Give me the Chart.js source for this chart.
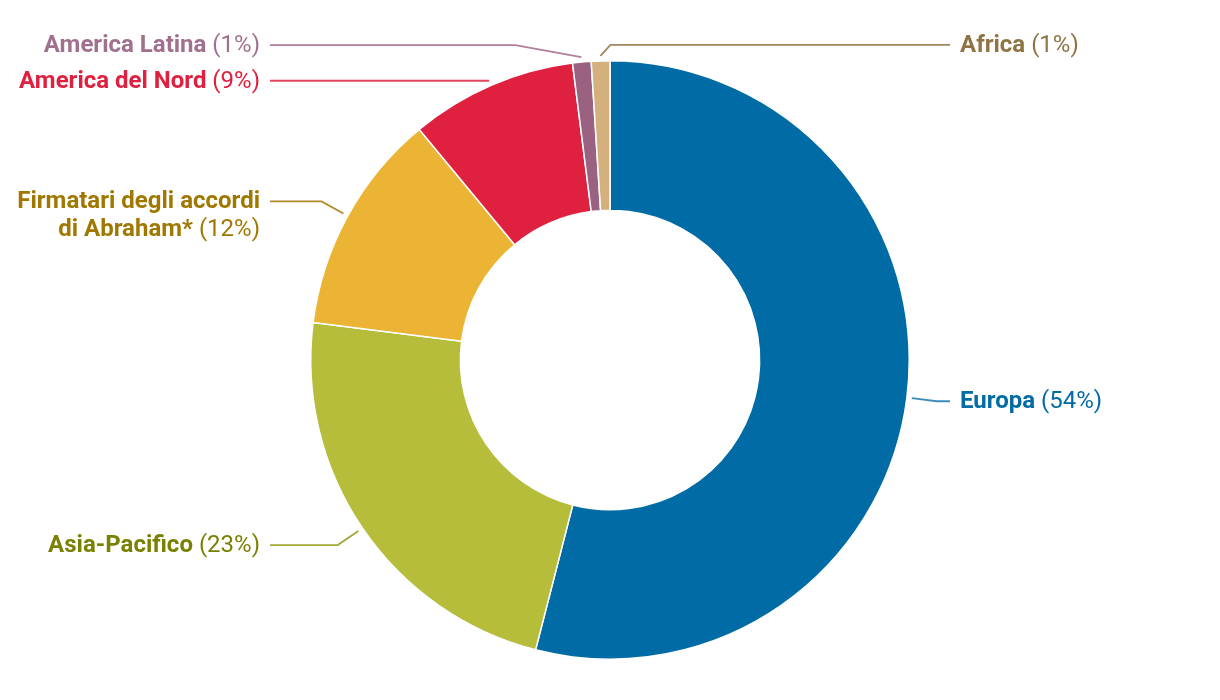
<!DOCTYPE html>
<html>
<head>
<meta charset="utf-8">
<script src="https://cdn.jsdelivr.net/npm/chart.js@4.4.1/dist/chart.umd.min.js"></script>
<style>
  html, body { margin: 0; padding: 0; background: #fff; }
  #wrap { width: 1220px; height: 700px; position: relative; }
</style>
</head>
<body>
<div id="wrap"><canvas id="chart"></canvas></div>
<script>
const regions = ["Europa", "Asia-Pacifico", "Firmatari degli accordi|di Abraham*", "America del Nord", "America Latina", "Africa"];
const shares = [54, 23, 12, 9, 1, 1];
const sliceColors = ["#006ba4", "#b5bd3b", "#ebb434", "#df203e", "#9b6180", "#d3b07c"];
const labelColors = ["#006ba4", "#7a8000", "#a07800", "#df203e", "#a0708e", "#8f7444"];
const lineColors = ["#3d8cb8", "#a2a83a", "#b08a2a", "#e2455e", "#b07f9c", "#a08760"];

// leader-line elbows: null = radial elbow, otherwise offset from the start point
const elbows = [null, null, null, [-29, 0], [-66, -12], [10, -11]];

const leaderLabels = {
  id: "leaderLabels",
  afterDraw(chart) {
    const ctx = chart.ctx;
    const meta = chart.getDatasetMeta(0);
    meta.data.forEach((arc, i) => {
      const { x: cx, y: cy, startAngle, endAngle, outerRadius } = arc.getProps(
        ["x", "y", "startAngle", "endAngle", "outerRadius"], true);
      const a = (startAngle + endAngle) / 2;
      const sx = cx + Math.cos(a) * (outerRadius + 5);
      const sy = cy + Math.sin(a) * (outerRadius + 5);
      let ex, ey;
      if (elbows[i]) {
        ex = sx + elbows[i][0];
        ey = sy + elbows[i][1];
      } else {
        ex = cx + Math.cos(a) * (outerRadius + 30);
        ey = cy + Math.sin(a) * (outerRadius + 30);
      }
      const right = ex > cx || i === 5;
      const endX = right ? cx + 340 : cx - 340;

      ctx.save();
      ctx.strokeStyle = lineColors[i];
      ctx.lineWidth = 1.8;
      ctx.beginPath();
      ctx.moveTo(sx, sy);
      ctx.lineTo(ex, ey);
      ctx.lineTo(endX, ey);
      ctx.stroke();

      const lines = regions[i].split("|");
      const pct = " (" + shares[i] + "%)";
      const textX = right ? cx + 350 : cx - 350;
      const lh = 28;
      ctx.textBaseline = "middle";
      ctx.fillStyle = labelColors[i];
      lines.forEach((ln, k) => {
        const y = ey + 1 + k * lh;
        const last = k === lines.length - 1;
        ctx.font = "bold 24px Roboto";
        const wName = ctx.measureText(ln).width;
        ctx.font = "24px Roboto";
        const wPct = last ? ctx.measureText(pct).width : 0;
        let x0 = right ? textX : textX - wName - wPct;
        ctx.textAlign = "left";
        ctx.font = "bold 24px Roboto";
        ctx.fillText(ln, x0, y);
        if (last) {
          ctx.font = "24px Roboto";
          ctx.fillText(pct, x0 + wName, y);
        }
      });
      ctx.restore();
    });
  }
};

new Chart(document.getElementById("chart"), {
  type: "doughnut",
  data: {
    labels: regions.map(r => r.replace("|", " ")),
    datasets: [{
      data: shares,
      backgroundColor: sliceColors,
      borderColor: "#fff",
      borderWidth: 1.5,
      hoverOffset: 0
    }]
  },
  options: {
    responsive: true,
    maintainAspectRatio: false,
    animation: false,
    cutout: "50%",
    layout: { padding: { top: 60, bottom: 40 } },
    plugins: { legend: { display: false }, tooltip: { enabled: false } }
  },
  plugins: [leaderLabels]
});
</script>
</body>
</html>
